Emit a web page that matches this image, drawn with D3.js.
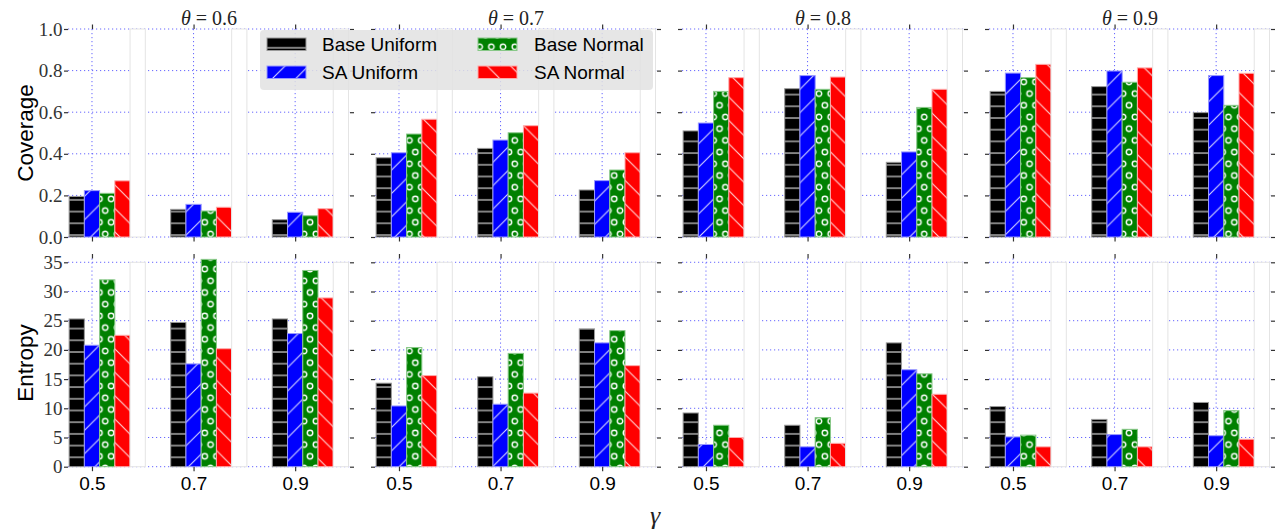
<!DOCTYPE html>
<html>
<head>
<meta charset="utf-8">
<script src="https://cdn.jsdelivr.net/npm/d3@7"></script>
<style>
  body { margin: 0; background: #fff; }
  svg { display: block; }
</style>
</head>
<body>
<div id="chart"></div>
<script>
// data
const thetas = ["0.6", "0.7", "0.8", "0.9"];
const gammas = ["0.5", "0.7", "0.9"];
const seriesNames = ["Base Uniform", "SA Uniform", "Base Normal", "SA Normal"];

// [theta][gamma] -> [Base Uniform, SA Uniform, Base Normal, SA Normal]
const coverage = [
  [[0.195, 0.223, 0.210, 0.270], [0.133, 0.157, 0.125, 0.143], [0.083, 0.119, 0.102, 0.136]],
  [[0.381, 0.405, 0.495, 0.566], [0.426, 0.466, 0.501, 0.535], [0.226, 0.271, 0.322, 0.405]],
  [[0.510, 0.548, 0.700, 0.766], [0.713, 0.776, 0.710, 0.769], [0.359, 0.409, 0.623, 0.710]],
  [[0.700, 0.788, 0.766, 0.830], [0.723, 0.798, 0.744, 0.813], [0.598, 0.776, 0.633, 0.787]]
];
const entropy = [
  [[25.3, 20.8, 32.0, 22.5], [24.7, 17.6, 35.5, 20.2], [25.3, 22.8, 33.6, 28.9]],
  [[14.3, 10.4, 20.4, 15.6], [15.4, 10.7, 19.4, 12.6], [23.6, 21.2, 23.3, 17.3]],
  [[9.2, 3.8, 7.1, 5.0], [7.1, 3.4, 8.4, 4.0], [21.2, 16.6, 15.9, 12.4]],
  [[10.3, 5.1, 5.4, 3.4], [8.1, 5.5, 6.4, 3.4], [11.0, 5.3, 9.6, 4.7]]
];
const coverageTicks = [0, 0.2, 0.4, 0.6, 0.8, 1.0];
const entropyTicks = [0, 5, 10, 15, 20, 25, 30, 35];

const width = 1278, height = 531;
const panelLeft = 68, panelStride = 307, panelW = 282;
const barW = 0.15;
const sans = "Liberation Sans, Arial, Helvetica, sans-serif";
const serif = "Liberation Serif, DejaVu Serif, Times New Roman, serif";

const rows = [
  { label: "Coverage", data: coverage, ticks: coverageTicks, domain: [0, 1.0], range: [237, 29], fmt: d3.format(".1f"), labelY: 133 },
  { label: "Entropy", data: entropy, ticks: entropyTicks, domain: [0, 35.65], range: [466.7, 258.5], fmt: d3.format("d"), labelY: 363 }
];

const svg = d3.select("#chart").append("svg")
  .attr("width", width)
  .attr("height", height)
  .attr("viewBox", [0, 0, width, height]);

// hatch patterns, in page coordinates like matplotlib
const defs = svg.append("defs");
const hs = 11.7, ds = 23.4;

const pH = defs.append("pattern").attr("id", "p0").attr("patternUnits", "userSpaceOnUse")
  .attr("width", 12).attr("height", hs);
pH.append("rect").attr("width", 12).attr("height", hs).attr("fill", "#000");
pH.append("line").attr("x1", 0).attr("x2", 12).attr("y1", 1).attr("y2", 1)
  .attr("stroke", "#c4c4c4").attr("stroke-width", 1.3);

const pF = defs.append("pattern").attr("id", "p1").attr("patternUnits", "userSpaceOnUse")
  .attr("width", ds).attr("height", ds);
pF.append("rect").attr("width", ds).attr("height", ds).attr("fill", "#0000ff");
pF.append("path").attr("d", `M-1,1L1,-1M0,${ds}L${ds},0M${ds - 1},${ds + 1}L${ds + 1},${ds - 1}`)
  .attr("stroke", "#d8d8ff").attr("stroke-width", 1.1);

const pO = defs.append("pattern").attr("id", "p2").attr("patternUnits", "userSpaceOnUse")
  .attr("width", hs).attr("height", ds);
pO.append("rect").attr("width", hs).attr("height", ds).attr("fill", "#008000");
[[0, 0], [hs, 0], [0, ds], [hs, ds], [hs / 2, ds / 2]].forEach(([cx, cy]) => {
  pO.append("circle").attr("cx", cx).attr("cy", cy).attr("r", 2.7)
    .attr("fill", "none").attr("stroke", "#fff").attr("stroke-width", 1.4);
});

const pB = defs.append("pattern").attr("id", "p3").attr("patternUnits", "userSpaceOnUse")
  .attr("width", ds).attr("height", ds);
pB.append("rect").attr("width", ds).attr("height", ds).attr("fill", "#ff0000");
pB.append("path").attr("d", `M0,0L${ds},${ds}M-1,${ds - 1}L1,${ds + 1}M${ds - 1},-1L${ds + 1},1`)
  .attr("stroke", "#ffd8d8").attr("stroke-width", 1.1);

const fills = ["url(#p0)", "url(#p1)", "url(#p2)", "url(#p3)"];
const edges = ["#9a9a9a", "#9999ff", "#88c888", "#ffaaaa"];

rows.forEach((row, r) => {
  const y = d3.scaleLinear().domain(row.domain).range(row.range);
  const yTop = row.range[1], yBot = row.range[0];
  const spacerH = row.ticks[row.ticks.length - 1];

  thetas.forEach((th, t) => {
    const x0 = panelLeft + t * panelStride;
    const x = d3.scaleLinear().domain([-0.236, 2.54]).range([x0, x0 + panelW]);
    const g = svg.append("g");

    // dotted blue grid
    g.selectAll(".hg").data(row.ticks).join("line")
      .attr("x1", x0).attr("x2", x0 + panelW)
      .attr("y1", d => y(d)).attr("y2", d => y(d))
      .attr("stroke", "#3333ff").attr("stroke-opacity", 0.75)
      .attr("stroke-width", 1).attr("stroke-dasharray", "1.2,2.8");
    g.selectAll(".vg").data(gammas.map((d, i) => i)).join("line")
      .attr("x1", d => x(d)).attr("x2", d => x(d))
      .attr("y1", yTop).attr("y2", yBot)
      .attr("stroke", "#3333ff").attr("stroke-opacity", 0.75)
      .attr("stroke-width", 1).attr("stroke-dasharray", "1.2,2.8");

    // bars
    gammas.forEach((gm, gi) => {
      const vals = row.data[t][gi];
      g.selectAll(null).data(vals).join("rect")
        .attr("x", (d, k) => x(gi + (k - 1) * barW - barW / 2))
        .attr("width", x(barW) - x(0))
        .attr("y", d => y(d))
        .attr("height", d => y(0) - y(d))
        .attr("fill", (d, k) => fills[k])
        .attr("stroke", (d, k) => edges[k])
        .attr("stroke-width", 1);
      // white spacer bar
      g.append("rect")
        .attr("x", x(gi + 3 * barW - barW / 2))
        .attr("width", x(barW) - x(0))
        .attr("y", y(spacerH))
        .attr("height", y(0) - y(spacerH))
        .attr("fill", "#fff")
        .attr("stroke", "#e4e4e4")
        .attr("stroke-width", 1);
    });

    // axes (ticks outward, no spines)
    const yl = g.append("g").attr("transform", `translate(${x0},0)`)
      .call(d3.axisLeft(y).tickValues(row.ticks).tickSize(4).tickPadding(1.5)
        .tickFormat(t === 0 ? row.fmt : ""));
    const yr = g.append("g").attr("transform", `translate(${x0 + panelW},0)`)
      .call(d3.axisRight(y).tickValues(row.ticks).tickSize(4).tickFormat(""));
    const xt = g.append("g").attr("transform", `translate(0,${yTop})`)
      .call(d3.axisTop(x).tickValues([0, 1, 2]).tickSize(4.5).tickFormat(""));
    const xb = g.append("g").attr("transform", `translate(0,${yBot})`)
      .call(d3.axisBottom(x).tickValues([0, 1, 2]).tickSize(4.5).tickPadding(5.5)
        .tickFormat(r === 1 ? (i => gammas[i]) : ""));
    [yl, yr, xt, xb].forEach(a => {
      a.select(".domain").remove();
      a.selectAll(".tick line").attr("stroke", "#333").attr("stroke-width", 1.2);
    });
    yl.selectAll("text").style("font-family", serif).style("font-size", "19px").attr("fill", "#333");
    xb.selectAll("text").style("font-family", sans).style("font-size", "19px").attr("fill", "#000");

    if (r === 0) {
      const tt = svg.append("text")
        .attr("x", x0 + panelW / 2).attr("y", 24.5)
        .attr("text-anchor", "middle")
        .style("font-family", serif).style("font-size", "20px").attr("fill", "#222");
      tt.append("tspan").style("font-style", "italic").text("θ");
      tt.append("tspan").text(" = " + th);
    }
  });

  svg.append("text")
    .attr("transform", `translate(33,${row.labelY}) rotate(-90)`)
    .attr("text-anchor", "middle")
    .style("font-family", sans).style("font-size", "22.5px").attr("fill", "#000")
    .text(row.label);
});

// x axis title
svg.append("text")
  .attr("x", 655).attr("y", 524)
  .attr("text-anchor", "middle")
  .style("font-family", serif).style("font-style", "italic")
  .style("font-size", "26px").attr("fill", "#222")
  .text("γ");

// legend
const leg = svg.append("g");
leg.append("rect").attr("x", 260).attr("y", 30).attr("width", 393).attr("height", 60)
  .attr("rx", 4).attr("fill", "#e2e2e2").attr("fill-opacity", 0.85);
const legX = [267, 478], legTextX = [322, 534], legY = [38, 66];
seriesNames.forEach((name, k) => {
  const col = k < 2 ? 0 : 1, rw = k % 2;
  leg.append("rect").attr("x", legX[col]).attr("y", legY[rw])
    .attr("width", 39).attr("height", 12.5)
    .attr("fill", fills[k]).attr("stroke", edges[k]).attr("stroke-width", 1);
  leg.append("text").attr("x", legTextX[col]).attr("y", legY[rw] + 12.7)
    .style("font-family", sans).style("font-size", "19px").attr("fill", "#000")
    .text(name);
});
</script>
</body>
</html>
